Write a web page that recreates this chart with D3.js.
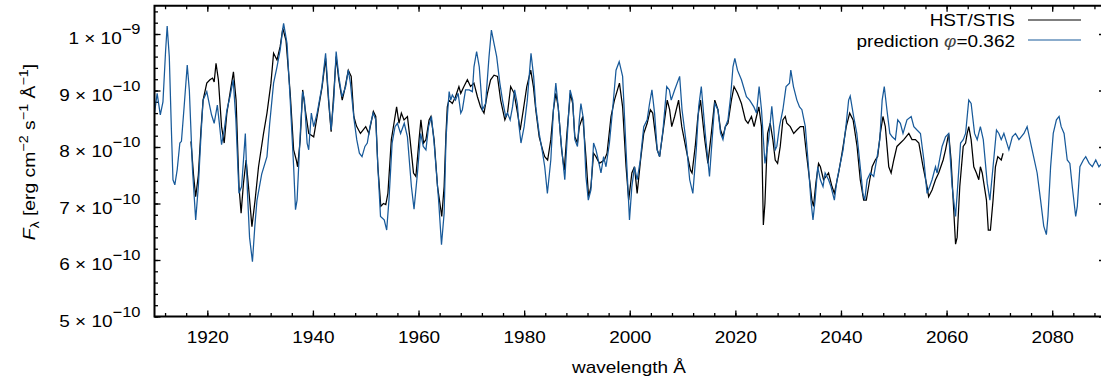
<!DOCTYPE html>
<html lang="en">
<head>
    <meta charset="UTF-8">
    <title>HST/STIS vs prediction</title>
    <script src="https://d3js.org/d3.v7.min.js"></script>
    <style>
        body { margin: 0; background: #fff; }
        svg { display: block; font-family: "Liberation Sans", Arial, sans-serif; }
        .tick line { stroke: #000; stroke-width: 1.3px; }
        .axis path { display: none; }
        .lbl { font-size: 16.8px; fill: #000; }
    </style>
</head>
<body>
<svg id="chart" width="1101" height="381"></svg>
<script>
    // wavelengths in Angstrom, flux in units of 1e-10 erg cm^-2 s^-1 A^-1
    const stisWave = [
        1916.9,1917.4,1917.8,1918.3,1918.8,1919.2,1919.9,1920.5,1921.0,1921.3,1921.65,1922.1,1922.7,1923.2,1923.7,1924.4,1924.95,1925.45,
        1926.0,1926.4,1926.85,1927.35,1927.8,1928.45,1929.05,1929.7,1930.65,1931.3,1932.05,1932.55,1933.2,1933.8,1934.3,1934.9,1935.7,
        1936.35,1936.85,1937.1,1937.6,1938.06,1938.55,1939.2,1940.15,1941.1,1941.75,1942.4,1943.0,1943.45,1943.95,1944.4,1944.9,1945.55,
        1946.0,1946.7,1947.25,1947.75,1948.25,1949.0,1950.0,1950.6,1951.45,1951.9,1952.3,1952.85,1953.35,1953.8,1954.2,1954.85,1955.35,
        1955.85,1956.3,1956.75,1957.25,1957.9,1958.4,1959.05,1959.5,1960.1,1960.45,1960.95,1961.4,1962.0,1962.35,1962.95,1963.6,1964.4,
        1964.85,1965.2,1965.45,1965.75,1966.4,1967.0,1967.65,1968.0,1968.6,1969.25,1969.85,1970.5,1971.15,1971.75,1972.4,1973.05,1973.65,
        1974.3,1974.95,1975.55,1976.35,1976.85,1977.45,1978.1,1978.75,1979.25,1979.85,1980.5,1981.25,1981.75,1982.2,1982.85,1983.5,1983.9,
        1984.45,1985.05,1985.55,1986.0,1986.45,1987.1,1987.6,1988.1,1988.75,1989.2,1989.6,1990.1,1990.45,1991.1,1991.7,1992.2,1992.65,
        1993.15,1993.6,1994.25,1995.2,1995.7,1996.45,1997.1,1998.05,1998.65,1999.3,1999.8,2000.4,2000.9,2001.4,2002.05,2002.65,2003.3,
        2003.9,2004.35,2005.2,2005.65,2006.25,2007.1,2007.55,2007.95,2008.5,2009.25,2009.85,2010.7,2011.5,2011.8,2012.4,2012.9,2013.4,
        2014.2,2014.8,2015.45,2016.1,2016.7,2017.2,2017.65,2018.1,2018.6,2019.25,2019.75,2020.4,2021.15,2021.9,2022.4,2023.05,2023.55,
        2024.0,2024.45,2024.95,2025.3,2025.6,2026.1,2026.6,2027.1,2027.55,2028.0,2028.5,2029.0,2029.45,2029.75,2030.4,2031.05,2031.65,
        2032.3,2032.9,2033.45,2034.05,2034.5,2034.8,2035.25,2035.75,2036.1,2036.7,2037.65,2038.3,2038.75,2039.55,2040.2,2041.0,2041.65,
        2042.3,2043.05,2043.65,2044.3,2044.8,2045.45,2045.9,2046.5,2046.95,2047.45,2047.95,2048.4,2049.05,2049.5,2050.0,2050.6,2051.25,
        2051.9,2052.85,2053.45,2054.1,2054.75,2055.55,2056.3,2056.6,2057.25,2057.9,2058.5,2059.35,2059.8,2060.4,2060.85,2061.25,2061.7,
        2062.0,2062.5,2063.15,2063.6,2063.9,2064.2,2064.65,2065.15,2065.65,2066.1,2066.4,2066.75,2067.55,2067.9,2068.3,2068.8,2069.25,
        2069.7,2070.35,2070.7
    ];
    const stisFlux = [
        8.10,7.50,7.12,7.50,8.30,8.83,9.13,9.19,9.22,9.15,9.48,9.19,8.36,8.07,8.60,9.01,9.33,8.83,
        7.30,6.83,7.36,7.77,7.30,6.59,7.06,7.65,8.24,8.60,9.13,9.66,9.54,9.78,10.10,9.89,8.95,
        7.95,7.77,7.65,8.13,9.01,8.66,8.24,8.18,8.71,9.07,9.57,8.77,8.27,8.95,9.60,9.19,8.83,
        9.01,9.36,9.25,8.54,8.37,8.24,8.36,8.24,8.63,8.54,7.65,6.95,7.00,6.98,7.18,8.13,8.42,
        8.71,8.42,8.60,8.48,8.54,8.13,7.54,7.48,8.13,8.48,8.07,8.13,8.48,8.54,8.13,7.30,6.77,
        7.30,8.24,8.71,8.83,8.77,8.89,9.07,8.95,9.07,9.19,9.07,9.13,8.89,8.71,8.60,8.95,9.19,
        9.27,9.25,8.83,8.48,8.60,9.07,8.95,8.60,8.30,8.66,9.07,9.36,9.07,8.66,8.18,7.95,7.83,
        7.77,8.13,8.66,8.95,8.71,7.95,7.59,8.24,8.95,8.77,8.18,8.07,8.36,8.54,7.83,7.12,7.30,
        7.89,7.83,7.71,7.77,7.89,8.54,8.83,9.13,8.71,7.65,7.06,7.54,7.65,7.18,7.77,8.24,8.42,
        8.66,8.60,7.95,7.83,8.24,8.83,8.66,8.36,8.54,8.83,8.36,7.95,7.59,7.54,8.01,8.54,8.83,
        8.13,7.71,8.24,8.83,8.66,8.30,8.18,8.36,8.42,8.83,9.07,8.95,8.77,8.48,8.42,8.54,8.36,
        8.54,8.71,8.36,6.62,7.00,8.24,8.42,8.13,7.77,7.71,8.01,8.48,8.54,8.42,8.36,8.24,8.30,
        8.36,8.36,7.89,7.42,7.06,6.95,7.36,7.71,7.65,7.42,7.54,7.30,7.18,7.54,7.89,8.36,8.60,
        8.48,8.01,7.42,7.06,7.06,7.42,7.65,7.77,7.83,8.24,8.54,8.36,7.65,7.54,7.77,8.01,8.07,
        8.13,8.24,8.13,8.13,8.07,7.65,7.30,7.12,7.24,7.42,7.54,7.77,7.95,8.24,7.77,7.06,6.28,
        6.40,7.30,8.01,8.07,8.24,8.36,8.13,7.65,7.54,7.42,7.65,7.54,7.06,6.53,6.53,7.06,7.65,
        7.83,7.77,7.89
    ];
    const predWave = [
        1910.0,1910.5,1911.1,1911.6,1912.1,1912.4,1912.8,1913.2,1913.5,1913.85,1914.3,1914.8,1915.1,1915.6,1916.2,1916.6,1917.2,1917.8,
        1918.3,1918.8,1919.2,1919.9,1920.4,1920.8,1921.3,1921.9,1922.3,1922.7,1923.2,1923.7,1924.3,1924.9,1925.4,1926.0,1926.5,1927.2,
        1927.6,1928.0,1928.55,1929.0,1929.4,1930.3,1931.3,1931.8,1932.55,1933.2,1933.8,1934.3,1934.45,1935.1,1935.7,1936.35,1936.7,1937.0,
        1937.6,1938.06,1938.4,1938.9,1939.2,1939.7,1940.15,1940.8,1941.7,1942.4,1943.0,1943.45,1943.95,1944.4,1944.9,1945.5,1946.2,1946.7,
        1947.1,1947.8,1948.3,1948.8,1949.3,1949.85,1950.3,1950.8,1951.4,1951.9,1952.3,1952.8,1953.5,1953.97,1954.4,1955.0,1955.55,1956.0,
        1956.6,1957.3,1957.9,1958.65,1959.15,1959.8,1960.4,1960.9,1961.4,1961.9,1962.45,1962.95,1963.8,1964.35,1964.85,1965.2,1965.5,
        1965.8,1966.1,1966.4,1967.0,1967.5,1968.0,1968.3,1968.9,1969.6,1970.2,1970.5,1971.0,1971.5,1972.1,1972.7,1973.35,1973.8,1974.3,
        1974.8,1975.4,1975.9,1976.5,1976.85,1977.35,1977.8,1978.2,1978.7,1979.05,1979.4,1980.0,1980.6,1981.3,1981.8,1982.2,1982.85,1983.5,
        1983.9,1984.4,1985.05,1985.55,1986.0,1986.45,1986.95,1987.45,1987.7,1988.2,1988.7,1989.2,1989.6,1990.1,1990.45,1990.75,1991.25,
        1991.7,1992.15,1992.65,1993.15,1993.6,1993.9,1994.55,1995.05,1995.5,1996.15,1996.75,1997.4,1998.0,1998.65,1999.3,1999.95,2000.4,
        2000.9,2001.4,2002.0,2002.65,2003.3,2003.75,2004.2,2004.7,2005.2,2005.65,2006.3,2007.0,2007.5,2007.85,2008.5,2009.45,2009.9,2010.7,
        2011.35,2011.95,2012.6,2013.05,2013.55,2014.3,2015.1,2015.6,2016.1,2016.7,2017.2,2017.65,2018.1,2018.6,2019.1,2019.55,2019.9,
        2020.4,2021.15,2022.1,2022.7,2023.5,2024.0,2024.5,2024.95,2025.6,2026.3,2026.9,2027.25,2027.55,2027.85,2028.35,2029.0,2029.6,
        2030.25,2030.5,2031.0,2031.65,2032.15,2032.6,2033.25,2033.85,2034.3,2034.7,2035.1,2035.6,2036.1,2036.6,2037.0,2037.65,2038.1,
        2038.75,2039.25,2039.75,2040.4,2041.0,2041.45,2041.75,2042.4,2043.0,2043.65,2044.15,2044.5,2044.95,2045.55,2046.2,2046.85,2047.35,
        2047.8,2048.2,2048.7,2049.25,2049.7,2050.3,2050.75,2051.25,2051.75,2052.5,2053.3,2053.8,2054.4,2055.05,2055.7,2056.3,2056.8,
        2057.25,2057.9,2058.2,2059.15,2059.8,2060.4,2061.05,2061.7,2062.1,2062.65,2063.15,2063.6,2064.2,2064.65,2065.3,2065.8,2066.4,
        2066.95,2067.7,2068.2,2068.8,2069.45,2069.9,2070.35,2070.85,2071.8,2072.45,2073.05,2073.7,2074.65,2075.25,2076.2,2077.15,2077.8,
        2078.4,2078.9,2079.2,2079.7,2080.2,2080.8,2081.3,2081.7,2082.25,2082.85,2083.35,2083.8,2084.45,2084.75,2085.25,2085.9,2086.35,
        2087.0,2087.6,2088.25,2088.85,2089.4,2090.0
    ];
    const predFlux = [
        8.60,8.95,8.57,8.80,9.70,10.14,9.60,8.30,7.42,7.33,7.60,8.07,8.10,8.70,9.45,9.00,7.60,6.71,
        7.30,8.20,8.83,8.98,8.75,8.57,8.42,8.74,8.40,8.04,8.30,8.65,8.89,9.19,8.50,7.18,7.30,8.24,
        7.20,6.40,5.97,6.60,7.05,7.52,7.83,8.40,9.13,9.42,9.72,10.10,10.19,9.83,8.83,7.65,6.89,7.06,
        8.24,8.98,8.83,8.07,7.95,8.60,8.36,8.60,9.07,9.66,8.83,8.30,8.83,9.69,9.25,8.89,9.07,9.36,
        9.13,8.48,8.13,7.89,7.83,8.01,8.07,8.36,8.60,8.48,7.65,6.77,6.71,6.53,7.06,8.07,8.36,8.42,
        8.24,8.42,8.18,7.30,6.90,7.54,8.24,8.01,7.95,8.36,8.54,8.07,7.06,6.27,6.83,8.13,8.60,
        8.98,8.83,8.92,8.83,8.95,8.60,8.66,9.01,9.01,8.98,9.42,9.69,9.42,8.66,8.77,9.60,10.07,9.83,
        9.60,9.13,8.83,8.54,8.60,8.48,8.71,9.01,8.77,8.36,8.07,8.36,8.83,9.66,9.25,8.71,8.24,7.89,
        7.65,7.18,7.77,8.66,9.13,8.71,8.13,7.65,7.42,8.24,9.01,8.83,8.13,8.01,8.48,8.77,8.48,
        7.48,7.06,7.24,8.07,7.95,7.83,7.54,7.83,7.65,8.07,8.66,9.36,9.51,9.25,7.95,6.71,7.30,
        7.65,7.42,7.77,8.36,8.48,8.77,9.01,8.60,7.95,7.83,8.30,9.07,9.01,8.83,9.01,9.25,8.66,8.07,
        7.42,7.18,7.95,8.71,9.07,8.24,7.48,8.13,8.77,8.66,8.24,8.13,8.36,8.48,8.89,9.42,9.57,
        9.36,9.19,8.89,8.83,8.71,8.60,9.07,8.66,7.71,8.13,8.72,8.36,7.95,8.01,8.36,8.66,9.07,
        9.13,9.36,9.07,8.83,8.71,8.66,8.36,7.65,7.06,6.71,7.06,7.65,7.42,7.30,7.54,7.42,7.30,
        7.06,7.42,7.65,7.95,8.42,8.83,8.90,8.54,8.24,7.65,7.18,7.06,7.42,7.54,7.48,7.83,8.13,
        8.83,9.07,8.66,8.24,8.18,8.13,8.48,8.42,8.24,8.48,8.54,8.36,8.30,8.24,7.77,7.18,7.30,
        7.42,7.65,7.54,8.01,8.18,8.24,7.30,6.77,7.30,8.07,8.13,8.24,8.83,8.77,8.24,8.13,8.36,
        8.13,7.36,7.06,7.65,8.30,8.24,8.13,8.24,7.95,8.18,8.24,8.13,8.24,8.36,7.95,7.54,7.06,
        6.60,6.45,6.77,7.65,8.24,8.48,8.54,8.36,8.24,7.77,7.71,7.30,6.77,6.95,7.65,7.77,7.83,
        7.71,7.65,7.77,7.65,7.71,7.65
    ];

    const xMajor = [1920, 1940, 1960, 1980, 2000, 2020, 2040, 2060, 2080];
    const xMinor = d3.range(1912, 2090, 4);
    const yMajor = [5, 6, 7, 8, 9, 10];
    const yMinor = d3.range(5, 10.5, 0.2);
    const yMantissa = ["5", "6", "7", "8", "9", "1"];
    const yExponent = ["\u221210", "\u221210", "\u221210", "\u221210", "\u221210", "\u22129"];

    const svg = d3.select("#chart");
    const plotLeft = 154.5, plotRight = 1105, plotTop = 5.75, plotBottom = 316.5;
    const sx = 1.13;   // text is a bit wider than Liberation Sans

    const x = d3.scaleLinear().domain([1910, 2090]).range([plotLeft, plotRight]);
    const y = d3.scaleLinear().domain([5, 10.5]).range([plotBottom, plotTop]);

    // ticks, all pointing inward
    function addAxis(gen, tr) {
        return svg.append("g").attr("class", "axis").attr("transform", tr).call(gen);
    }
    addAxis(d3.axisBottom(x).tickValues(xMinor).tickSize(-3.5).tickFormat(""), `translate(0,${plotBottom})`);
    addAxis(d3.axisTop(x).tickValues(xMinor).tickSize(-3.5).tickFormat(""), `translate(0,${plotTop})`);
    addAxis(d3.axisTop(x).tickValues(xMajor).tickSize(-6).tickFormat(""), `translate(0,${plotTop})`);
    addAxis(d3.axisLeft(y).tickValues(yMinor).tickSize(-3.5).tickFormat(""), `translate(${plotLeft},0)`);
    addAxis(d3.axisRight(y).tickValues(yMinor).tickSize(-3.5).tickFormat(""), `translate(${plotRight},0)`);
    addAxis(d3.axisRight(y).tickValues(yMajor).tickSize(-6).tickFormat(""), `translate(${plotRight},0)`);

    const xAxis = addAxis(d3.axisBottom(x).tickValues(xMajor).tickSize(-6).tickFormat(d3.format("d")), `translate(0,${plotBottom})`);
    xAxis.selectAll("text")
        .attr("class", "lbl")
        .attr("y", 26.5).attr("dy", null)
        .attr("transform", `scale(${sx},1)`);

    const yAxis = addAxis(d3.axisLeft(y).tickValues(yMajor).tickSize(-6), `translate(${plotLeft},0)`);
    yAxis.selectAll("text").each(function(d, i) {
        const t = d3.select(this).text(null)
            .attr("class", "lbl")
            .attr("x", -14 / sx).attr("y", 9.5).attr("dy", null)
            .attr("text-anchor", "end")
            .attr("transform", `scale(${sx},1)`);
        t.append("tspan").text(yMantissa[i] + " \u00d7 10");
        t.append("tspan").attr("dy", -10).style("font-size", "14.6px").text(yExponent[i]);
    });

    // spectra
    svg.append("clipPath").attr("id", "plot-clip")
        .append("rect").attr("x", plotLeft).attr("y", plotTop)
        .attr("width", plotRight - plotLeft).attr("height", plotBottom - plotTop);

    const line = d3.line().x(d => x(d[0])).y(d => y(d[1]));
    const stis = d3.zip(stisWave, stisFlux);
    const pred = d3.zip(predWave, predFlux);

    svg.append("path").datum(stis)
        .attr("clip-path", "url(#plot-clip)")
        .attr("fill", "none").attr("stroke", "#000").attr("stroke-width", 1.25)
        .attr("d", line);
    svg.append("path").datum(pred)
        .attr("clip-path", "url(#plot-clip)")
        .attr("fill", "none").attr("stroke", "#185a9a").attr("stroke-width", 1.25)
        .attr("d", line);

    // frame
    svg.append("rect")
        .attr("x", plotLeft).attr("y", plotTop)
        .attr("width", plotRight - plotLeft).attr("height", plotBottom - plotTop)
        .attr("fill", "none").attr("stroke", "#000").attr("stroke-width", 2);

    // legend
    const legend = [
        { name: "HST/STIS", color: "#000", base: 25.7, ly: 20 },
        { name: "prediction", color: "#185a9a", base: 46.7, ly: 40 }
    ];
    legend.forEach(d => {
        const t = svg.append("text").attr("class", "lbl")
            .attr("text-anchor", "end")
            .attr("transform", `translate(1015,${d.base}) scale(${sx},1)`);
        t.append("tspan").text(d.name);
        if (d.name === "prediction") {
            t.append("tspan").text(" ");
            t.append("tspan").style("font-style", "italic").attr("fill", "#444").text("\u03c6");
            t.append("tspan").text("=0.362");
        }
        svg.append("line")
            .attr("x1", 1028).attr("x2", 1081).attr("y1", d.ly).attr("y2", d.ly)
            .attr("stroke", d.color).attr("stroke-width", 1.1);
    });

    // axis titles
    svg.append("text").attr("class", "lbl")
        .attr("text-anchor", "middle")
        .attr("transform", `translate(629,372.5) scale(${sx},1)`)
        .text("wavelength \u00c5");

    const yl = svg.append("text").attr("class", "lbl")
        .attr("text-anchor", "middle")
        .attr("transform", `translate(35,152) rotate(-90) scale(1.15,1)`);
    yl.append("tspan").style("font-style", "italic").text("F");
    yl.append("tspan").attr("dy", 4).style("font-size", "12px").text("\u03bb");
    yl.append("tspan").attr("dy", -4).text(" [erg cm");
    yl.append("tspan").attr("dy", -7).style("font-size", "12.5px").text("\u22122");
    yl.append("tspan").attr("dy", 7).text(" s");
    yl.append("tspan").attr("dy", -7).style("font-size", "12.5px").text("\u22121");
    yl.append("tspan").attr("dy", 7).text(" \u00c5");
    yl.append("tspan").attr("dy", -7).style("font-size", "12.5px").text("\u22121");
    yl.append("tspan").attr("dy", 7).text("]");
</script>
</body>
</html>
